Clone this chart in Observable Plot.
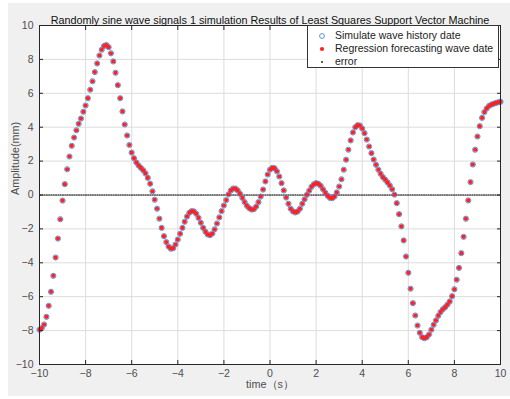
<!DOCTYPE html>
<html>
<head>
<meta charset="utf-8">
<script src="https://cdn.jsdelivr.net/npm/d3@7"></script>
<script src="https://cdn.jsdelivr.net/npm/@observablehq/plot@0.6"></script>
<style>
  html, body { margin: 0; padding: 0; background: #ffffff; }
  #wrap { position: relative; width: 510px; height: 399px; font-family: "Liberation Sans", Arial, sans-serif; }
  #bg { position: absolute; left: 8px; top: 3px; width: 502px; height: 393px; background: #f0f0f0; }
  #chart { position: absolute; left: 0; top: 0; }
  #legend { position: absolute; left: 307px; top: 25px; width: 192px; height: 43px; background: #fff; border: 1px solid #333; box-sizing: border-box; font-size: 10.5px; color: #222; }
  .row { position: absolute; left: 0; height: 13px; line-height: 13px; white-space: nowrap; }
  .row svg { position: absolute; left: 10px; top: 3px; }
  .row span { position: absolute; left: 27px; }
</style>
</head>
<body>
<div id="wrap"><div id="bg"></div><div id="chart"></div>
<div id="legend"></div></div>
<script>
const titleText = "Randomly sine wave signals 1 simulation Results of Least Squares Support Vector Machine";
const xLabel = "time（s）";
const yLabel = "Amplitude(mm)";
const seriesNames = ["Simulate wave history date", "Regression forecasting wave date", "error"];
const xTicks = [-10, -8, -6, -4, -2, 0, 2, 4, 6, 8, 10];
const yTicks = [-10, -8, -6, -4, -2, 0, 2, 4, 6, 8, 10];
const tStart = -10, tStep = 0.1;

// Simulated wave samples, every 0.1 s from -10 to 10
const simulated = [
  -7.95, -7.85, -7.64, -7.19, -6.54, -5.71, -4.77, -3.69, -2.57, -1.43,
  -0.33, 0.64, 1.52, 2.27, 2.90, 3.39, 3.82, 4.20, 4.51, 4.91,
  5.28, 5.71, 6.21, 6.71, 7.25, 7.76, 8.23, 8.57, 8.79, 8.85,
  8.72, 8.36, 7.88, 7.21, 6.48, 5.71, 4.93, 4.16, 3.51, 2.95,
  2.50, 2.17, 1.92, 1.74, 1.60, 1.46, 1.27, 1.01, 0.66, 0.22,
  -0.28, -0.81, -1.40, -1.94, -2.43, -2.78, -3.04, -3.17, -3.14, -2.92,
  -2.63, -2.29, -1.94, -1.58, -1.27, -1.05, -0.95, -0.97, -1.11, -1.35,
  -1.64, -1.94, -2.17, -2.33, -2.37, -2.27, -2.02, -1.68, -1.32, -0.95,
  -0.62, -0.30, 0.04, 0.26, 0.38, 0.38, 0.27, 0.07, -0.17, -0.42,
  -0.64, -0.78, -0.86, -0.84, -0.68, -0.42, -0.09, 0.32, 0.80, 1.21,
  1.49, 1.60, 1.58, 1.40, 1.09, 0.70, 0.27, -0.15, -0.52, -0.81,
  -0.97, -1.03, -0.97, -0.81, -0.52, -0.25, 0.01, 0.25, 0.48, 0.63,
  0.70, 0.66, 0.54, 0.34, 0.13, -0.05, -0.17, -0.19, -0.09, 0.15,
  0.50, 0.93, 1.49, 2.08, 2.67, 3.22, 3.69, 4.00, 4.12, 4.10,
  3.92, 3.65, 3.27, 2.86, 2.47, 2.09, 1.78, 1.49, 1.25, 1.05,
  0.90, 0.74, 0.56, 0.34, 0.02, -0.48, -1.13, -1.85, -2.68, -3.63,
  -4.59, -5.53, -6.38, -7.11, -7.70, -8.13, -8.39, -8.45, -8.39, -8.23,
  -7.95, -7.66, -7.40, -7.13, -6.91, -6.74, -6.62, -6.46, -6.28, -5.97,
  -5.56, -5.00, -4.30, -3.43, -2.47, -1.40, -0.32, 0.76, 1.80, 2.67,
  3.45, 4.06, 4.55, 4.89, 5.10, 5.25, 5.33, 5.38, 5.43, 5.47,
  5.50
];
// Forecast coincides with the simulated samples in the picture
const forecast = simulated.slice();

const data = simulated.map((v, i) => ({
  t: +(tStart + i * tStep).toFixed(2),
  sim: v,
  pred: forecast[i],
  err: v - forecast[i]
}));

const blue = "#5a8fd8", red = "#ff2020", ink = "#262626", labelInk = "#4d4d4d";
const font = "\"Liberation Sans\", Arial, sans-serif";
const noLabel = () => "";

const chart = Plot.plot({
  width: 510, height: 399,
  marginLeft: 39, marginRight: 10, marginTop: 25, marginBottom: 35,
  style: { background: "transparent", fontFamily: font, fontSize: "10.5px", color: ink, overflow: "visible" },
  x: { domain: [-10, 10] },
  y: { domain: [-10, 10] },
  marks: [
    Plot.frame({ fill: "white", stroke: null }),
    Plot.gridX(xTicks, { stroke: "#dcdcdc", strokeOpacity: 1 }),
    Plot.gridY(yTicks, { stroke: "#dcdcdc", strokeOpacity: 1 }),
    Plot.line(data, { x: "t", y: "err", stroke: "#000", strokeWidth: 1.2, strokeDasharray: "1,1.3" }),
    Plot.dot(data, { x: "t", y: "sim", r: 2.6, stroke: blue, strokeWidth: 1, fill: "none" }),
    Plot.dot(data, { x: "t", y: "pred", r: 2.1, fill: red, stroke: null }),
    Plot.frame({ stroke: ink, strokeWidth: 1 }),
    Plot.axisX(xTicks, { anchor: "bottom", tickSize: 4, dy: -4, tickFormat: noLabel, label: null, stroke: ink }),
    Plot.axisX(xTicks, { anchor: "top", tickSize: 4, dy: 4, tickFormat: noLabel, label: null, stroke: ink }),
    Plot.axisY(yTicks, { anchor: "left", tickSize: 4, dx: 4, tickFormat: noLabel, label: null, stroke: ink }),
    Plot.axisY(yTicks, { anchor: "right", tickSize: 4, dx: -4, tickFormat: noLabel, label: null, stroke: ink }),
    Plot.axisX(xTicks, { anchor: "bottom", tickSize: 0, tickPadding: 5, label: null, fill: labelInk }),
    Plot.axisY(yTicks, { anchor: "left", tickSize: 0, tickPadding: 6, label: null, fill: labelInk }),
    Plot.text([titleText], { frameAnchor: "top", dy: -9, fill: "#111", fontSize: 10.8 }),
    Plot.text([xLabel], { frameAnchor: "bottom", dy: 23, fill: labelInk, fontSize: 10.8 }),
    Plot.text([yLabel], { frameAnchor: "left", dx: -24, rotate: -90, fill: labelInk, fontSize: 10.8 })
  ]
});
document.getElementById("chart").appendChild(chart);

// Legend
const legend = document.getElementById("legend");
const markers = [
  `<svg width="10" height="8"><circle cx="4" cy="4" r="2.4" fill="none" stroke="${blue}" stroke-width="1"/></svg>`,
  `<svg width="10" height="8"><circle cx="4" cy="4" r="2.1" fill="${red}"/></svg>`,
  `<svg width="10" height="8"><circle cx="4" cy="4" r="0.9" fill="#111"/></svg>`
];
seriesNames.forEach((name, i) => {
  const row = document.createElement("div");
  row.className = "row";
  row.style.top = (3 + i * 13) + "px";
  row.innerHTML = markers[i] + `<span>${name}</span>`;
  legend.appendChild(row);
});
</script>
</body>
</html>
